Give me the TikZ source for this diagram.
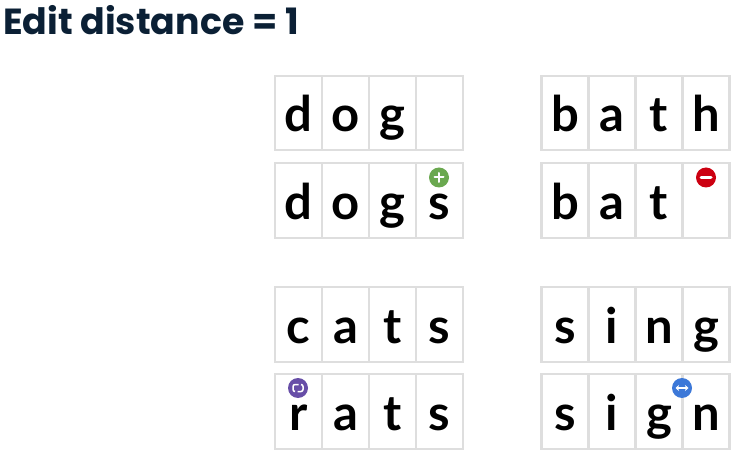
\documentclass[tikz,border=0pt]{standalone}
\usepackage{fontspec}
\setmainfont{Lato}
\newfontfamily\titlefont{Poppins}
\usetikzlibrary{arrows.meta}
\definecolor{gridgray}{HTML}{DEDEDE}
\definecolor{titleblue}{HTML}{0B2035}
\definecolor{addgreen}{HTML}{6AA84F}
\definecolor{delred}{HTML}{CC0011}
\definecolor{subpurple}{HTML}{674EA7}
\definecolor{swapblue}{HTML}{3C78D8}
\tikzset{
  cell/.style={draw=gridgray, line width=2.4pt, minimum width=47pt, minimum height=74.5pt,
    inner sep=0pt, text height=38pt, text depth=0pt, font=\fontsize{49}{49}\selectfont\bfseries},
  badge/.style={circle, minimum size=20pt, inner sep=0pt},
  glyph/.style={draw=white, line width=2pt, line cap=round},
  loopline/.style={draw=white, line width=1.5pt, rounded corners=2pt}
}
\begin{document}
\begin{tikzpicture}[x=1pt, y=-1pt, >=stealth]
  \useasboundingbox (0,0) rectangle (737,457);
  \node[anchor=base west, inner sep=0pt, text=titleblue, font=\titlefont\fontsize{36.3}{36.3}\selectfont\bfseries] (title) at (3,35) {Edit distance = 1};

  % word grids
  \foreach \nm/\x/\y/\letters in {
      dog/298.5/113/{d,o,g,{}}, dogs/298.5/200.5/{d,o,g,s},
      bath/565/113/{b,a,t,h}, bat/565/200.5/{b,a,t,{}},
      cats/298.5/324.5/{c,a,t,s}, rats/298.5/411.5/{r,a,t,s},
      sing/565/324.5/{s,i,n,g}, sign/565/411.5/{s,i,g,n}} {
    \foreach \ch [count=\i] in \letters {
      \node[cell] (\nm\i) at (\x+47*\i-47,\y) {\ch};
    }
  }

  % edit badges
  \node[badge, fill=addgreen] (plus) at (439,177.5) {};
  \draw[glyph] ([xshift=-4.5pt]plus.center) -- ([xshift=4.5pt]plus.center);
  \draw[glyph] ([yshift=-4.5pt]plus.center) -- ([yshift=4.5pt]plus.center);

  \node[badge, fill=delred] (minus) at (706,177.5) {};
  \draw[glyph, line width=3pt] ([xshift=-5pt]minus.center) -- ([xshift=5pt]minus.center);

  \node[badge, fill=subpurple] (repeat) at (298,388) {};
  \draw[loopline]
    ([shift={(0.5,-3.5)}]repeat.center) -- ([shift={(-5,-3.5)}]repeat.center)
    -- ([shift={(-5,3.5)}]repeat.center) -- ([shift={(-3,3.5)}]repeat.center);
  \draw[loopline]
    ([shift={(-0.5,3.5)}]repeat.center) -- ([shift={(5,3.5)}]repeat.center)
    -- ([shift={(5,-3.5)}]repeat.center) -- ([shift={(3,-3.5)}]repeat.center);

  \node[badge, fill=swapblue] (swap) at (682,388) {};
  \draw[white, line width=1.6pt, {Stealth[length=3.5pt,width=6pt]}-{Stealth[length=3.5pt,width=6pt]}]
    ([xshift=-6.5pt]swap.center) -- ([xshift=6.5pt]swap.center);
\end{tikzpicture}
\end{document}
